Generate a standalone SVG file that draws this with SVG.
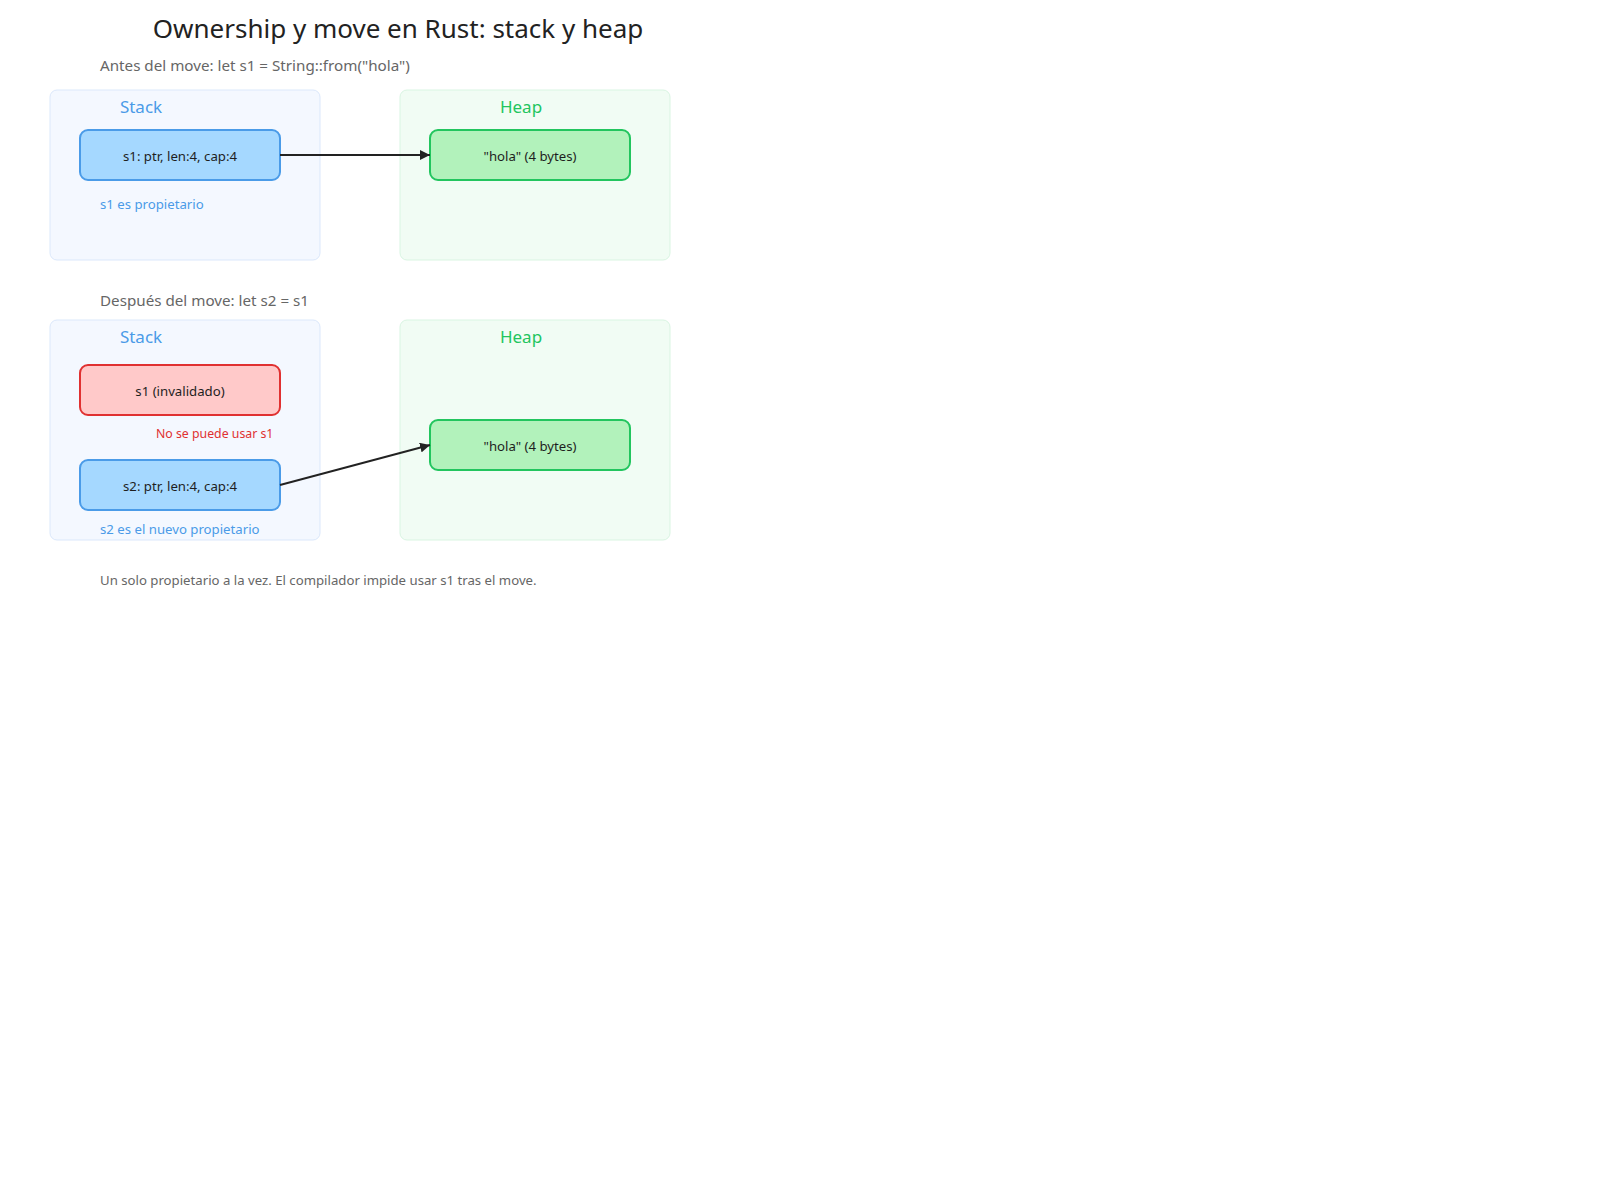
<svg xmlns="http://www.w3.org/2000/svg" width="1600" height="1200" viewBox="0 0 1600 1200">
  <defs>
    <marker id="arrow" viewBox="0 0 10 10" refX="10" refY="5" markerWidth="10" markerHeight="10" markerUnits="userSpaceOnUse" orient="auto">
      <path d="M0,0 L10,5 L0,10 z" fill="#222222"/>
    </marker>
    <style>
      text { font-family: "Noto Sans", "Open Sans", "Liberation Sans", sans-serif; }
      .title { font-size: 26px; fill: #222222; text-anchor: middle; }
      .sub { font-size: 15.2px; fill: #666666; }
      .foot { font-size: 13.2px; fill: #666666; }
      .stackbox { fill: #f4f8ff; stroke: #dbe8fb; stroke-width: 1; }
      .heapbox { fill: #f1fcf4; stroke: #d9f5e2; stroke-width: 1; }
      .stacklbl { font-size: 17px; fill: #4a9be8; text-anchor: middle; }
      .heaplbl { font-size: 17px; fill: #22c55e; text-anchor: middle; }
      .blue { fill: #a5d8ff; stroke: #4a9be8; stroke-width: 2; }
      .green { fill: #b2f2bb; stroke: #22c55e; stroke-width: 2; }
      .red { fill: #ffc9c9; stroke: #e03131; stroke-width: 2; }
      .nodetxt { font-size: 13.2px; fill: #1e1e1e; text-anchor: middle; }
      .note { font-size: 13.2px; fill: #4a9be8; }
      .warn { font-size: 12.3px; fill: #e03131; }
      .conn { stroke: #222222; stroke-width: 2; fill: none; marker-end: url(#arrow); }
    </style>
  </defs>

  <text class="title" x="398" y="38">Ownership y move en Rust: stack y heap</text>

  <!-- Section 1 -->
  <text class="sub" x="100" y="71">Antes del move: let s1 = String::from("hola")</text>
  <g id="stack1">
    <rect class="stackbox" x="50" y="90" width="270" height="170" rx="7"/>
    <text class="stacklbl" x="141" y="113">Stack</text>
  </g>
  <g id="heap1">
    <rect class="heapbox" x="400" y="90" width="270" height="170" rx="7"/>
    <text class="heaplbl" x="521" y="113">Heap</text>
  </g>
  <g id="s1_before">
    <rect class="blue" x="80" y="130" width="200" height="50" rx="8"/>
    <text class="nodetxt" x="180" y="161">s1: ptr, len:4, cap:4</text>
  </g>
  <g id="hola1">
    <rect class="green" x="430" y="130" width="200" height="50" rx="8"/>
    <text class="nodetxt" x="530" y="161">"hola" (4 bytes)</text>
  </g>
  <text class="note" x="100" y="209">s1 es propietario</text>

  <!-- Section 2 -->
  <text class="sub" x="100" y="306">Después del move: let s2 = s1</text>
  <g id="stack2">
    <rect class="stackbox" x="50" y="320" width="270" height="220" rx="7"/>
    <text class="stacklbl" x="141" y="343">Stack</text>
  </g>
  <g id="heap2">
    <rect class="heapbox" x="400" y="320" width="270" height="220" rx="7"/>
    <text class="heaplbl" x="521" y="343">Heap</text>
  </g>
  <g id="s1_invalid">
    <rect class="red" x="80" y="365" width="200" height="50" rx="8"/>
    <text class="nodetxt" x="180" y="396">s1 (invalidado)</text>
  </g>
  <text class="warn" x="156" y="438">No se puede usar s1</text>
  <g id="s2">
    <rect class="blue" x="80" y="460" width="200" height="50" rx="8"/>
    <text class="nodetxt" x="180" y="491">s2: ptr, len:4, cap:4</text>
  </g>
  <g id="hola2">
    <rect class="green" x="430" y="420" width="200" height="50" rx="8"/>
    <text class="nodetxt" x="530" y="451">"hola" (4 bytes)</text>
  </g>
  <text class="note" x="100" y="534">s2 es el nuevo propietario</text>

  <g id="connectors">
    <line class="conn" x1="280" y1="155" x2="430" y2="155"/>
    <line class="conn" x1="280" y1="485" x2="430" y2="445"/>
  </g>

  <text class="foot" x="100" y="585">Un solo propietario a la vez. El compilador impide usar s1 tras el move.</text>
</svg>
